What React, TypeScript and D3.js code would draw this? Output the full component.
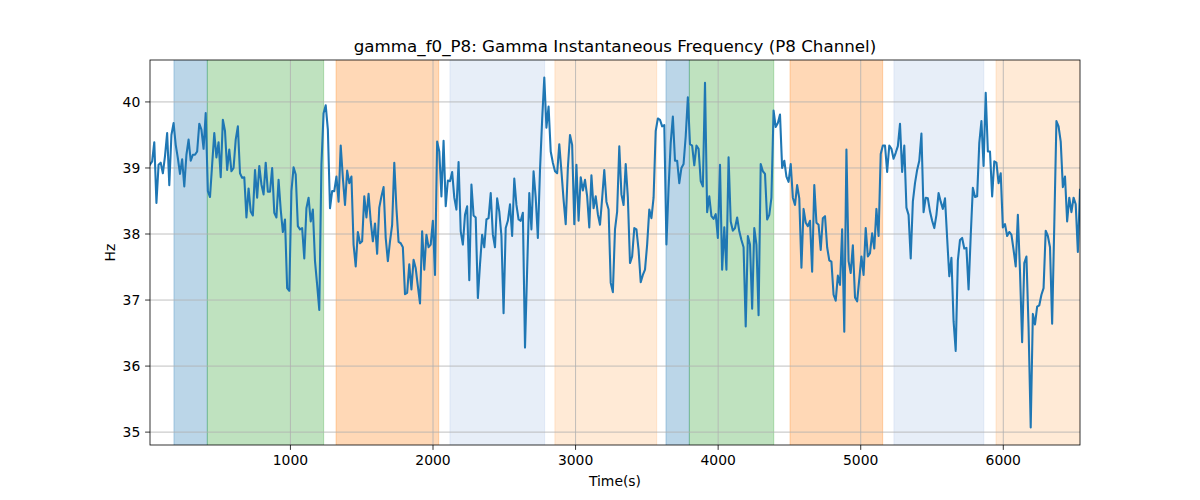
import { useEffect, useRef } from "react"
import * as d3 from "d3"

// sampled every ~15 s
const T_START = 15
const T_STEP = 15.03

const HZ_VALUES = [
  39.05, 39.1, 39.39, 38.47, 39.05, 39.08, 38.92, 39.18, 39.53, 38.74,
  39.5, 39.68, 39.35, 39.15, 38.91, 39.13, 38.72, 39.2, 39.43, 39.11,
  39.2, 39.2, 39.25, 39.67, 39.58, 39.29, 39.83, 38.65, 38.56, 39.05,
  39.53, 39.16, 39.39, 38.86, 39.73, 39.56, 38.97, 39.28, 38.95, 39.0,
  39.43, 39.63, 38.92, 38.85, 38.86, 38.25, 38.69, 38.34, 38.28, 38.97,
  38.55, 39.03, 38.75, 38.6, 39.08, 38.64, 38.64, 39.0, 38.32, 38.25,
  38.82, 38.37, 38.03, 38.22, 37.18, 37.14, 38.65, 39.01, 38.9, 38.12,
  38.07, 38.09, 37.63, 38.39, 38.55, 38.19, 38.37, 37.59, 37.23, 36.85,
  39.05, 39.83, 39.95, 39.58, 38.39, 38.65, 38.65, 38.87, 38.49, 39.34,
  38.85, 38.44, 38.96, 38.77, 38.87, 37.84, 37.51, 38.03, 37.86, 37.89,
  38.57, 38.25, 38.61, 38.19, 37.89, 38.16, 37.7, 38.4, 38.57, 38.71,
  37.94, 37.59,
  // ~1700 s
  37.89, 38.14, 39.08, 38.39, 37.88, 37.86, 37.8, 37.09, 37.11, 37.54,
  37.16, 37.61, 37.48, 37.21, 36.95, 38.04, 37.46, 37.99, 37.8, 37.84,
  38.2, 37.38, 39.4, 39.25, 38.57, 39.41, 38.42, 38.81, 38.8, 38.94,
  38.55, 38.37, 39.09, 38.04, 37.84, 38.29, 38.42, 37.3, 38.75, 38.28,
  38.25, 37.03, 37.54, 37.99, 37.8, 38.22, 38.24, 38.62, 37.99, 37.8,
  38.54, 38.34, 37.97, 36.8, 38.09, 38.2, 38.45, 37.97, 38.84, 38.44,
  38.22, 38.2, 38.32, 36.28, 37.46, 38.62, 38.07, 38.95, 38.55, 37.94,
  38.97, 39.73, 40.37, 39.61, 39.93, 39.25, 39.08, 38.95, 38.92, 39.36,
  38.95, 38.52, 38.15, 39.0, 39.5, 39.35, 38.15, 39.05, 38.2, 38.86,
  38.66, 38.82, 38.57, 38.1, 38.89, 38.39, 38.57, 38.3, 38.14, 38.54,
  38.97, 38.49, 38.37, 37.26, 37.12, 38.07, 38.34, 39.33,
  // ~3330 s
  38.6, 38.44, 39.06, 38.55, 37.56, 37.66, 38.09, 38.07, 37.76, 37.27,
  37.38, 37.46, 37.84, 38.37, 38.24, 38.55, 39.56, 39.75, 39.73, 39.63,
  39.65, 37.84, 38.7, 39.38, 39.78, 39.11, 39.11, 38.77, 39.0, 39.06,
  39.48, 40.07, 39.36, 39.34, 39.04, 39.34, 39.29, 38.8, 38.72, 40.29,
  38.33, 38.57, 38.27, 38.23, 38.3, 37.94, 39.05, 37.46, 38.1, 37.46,
  39.16, 38.19, 38.05, 38.09, 38.25, 38.04, 37.91, 37.8, 36.6, 37.97,
  37.84, 36.87, 38.09, 37.84, 36.77, 39.06, 38.95, 38.91, 38.22, 38.29,
  38.55, 39.87, 39.62, 39.68, 39.81, 39.0, 39.11, 38.87, 38.79, 39.06,
  38.55, 38.44, 38.74, 38.54, 37.49, 38.38, 38.17, 38.12, 38.2, 37.43,
  38.74, 38.17, 38.14, 37.76, 38.24, 38.27, 37.8, 37.6, 37.58, 37.08,
  36.99, 37.37, 37.23, 38.07, 36.52, 39.28, 37.59, 37.41, 37.83, 37.04,
  36.98, 37.32,
  // ~5020 s
  37.66, 37.38, 38.09, 37.66, 37.71, 38.01, 37.78, 38.38, 37.97, 39.21,
  39.34, 39.34, 38.94, 39.34, 39.29, 39.14, 39.23, 39.33, 39.67, 38.94,
  39.34, 38.4, 38.29, 37.63, 38.49, 38.77, 38.97, 39.11, 39.52, 38.33,
  38.55, 38.54, 38.34, 38.2, 38.09, 38.29, 38.62, 38.49, 38.38, 38.54,
  37.94, 37.36, 37.64, 36.68, 36.23, 37.6, 37.91, 37.94, 37.78, 37.79,
  37.16, 37.97, 38.7, 38.56, 38.57, 39.38, 39.71, 39.03, 40.14, 39.25,
  39.25, 38.57, 39.1, 39.08, 38.77, 38.92, 38.1, 38.15, 37.97, 38.03,
  37.99, 37.76, 37.51, 38.29, 37.43, 36.36, 37.56, 37.66, 36.58, 35.07,
  36.79, 36.63, 36.9, 36.92, 37.08, 37.18, 38.05, 37.97, 37.8, 36.64,
  38.14, 39.71, 39.63, 39.4, 38.71, 38.87, 38.19, 38.55, 38.33, 38.55,
  38.45, 37.73, 38.67,
]

const SPAN_START = [183, 417, 1320, 2119, 2855, 3634, 3798, 4504, 5233, 5949]
const SPAN_END   = [417, 1233, 2040, 2783, 3569, 3798, 4390, 5154, 5863, 6600]
const SPAN_KIND  = ["blue", "green", "orange", "ltblue", "ltorange", "blue", "green", "orange", "ltblue", "ltorange"]

const X_TICKS = [1000, 2000, 3000, 4000, 5000, 6000]
const Y_TICKS = [35, 36, 37, 38, 39, 40]

const SPAN_COLORS: Record<string, string> = {
  blue:     "#1f77b4",
  green:    "#2ca02c",
  orange:   "#ff7f0e",
  ltblue:   "#aec7e8",
  ltorange: "#ffbb78",
}

const W = 1200
const H = 500
const M_L = 150
const M_R = 1080
const M_T = 60
const M_B = 445
const FONT = "DejaVu Sans, sans-serif"

export default function App() {
  const svgRef = useRef<SVGSVGElement>(null)

  useEffect(() => {
    if (!svgRef.current) return
    const svg = d3.select(svgRef.current)
    svg.selectAll("*").remove()

    const times = HZ_VALUES.map((_, i) => T_START + i * T_STEP)
    const xScale = d3.scaleLinear().domain([times[0], times[times.length - 1]]).range([M_L, M_R])
    const yMin = d3.min(HZ_VALUES)!
    const yMax = d3.max(HZ_VALUES)!
    const pad = (yMax - yMin) * 0.05
    const yScale = d3.scaleLinear().domain([yMin - pad, yMax + pad]).range([M_B, M_T])

    svg.append("defs").append("clipPath").attr("id", "plot-clip")
      .append("rect").attr("x", M_L).attr("y", M_T).attr("width", M_R - M_L).attr("height", M_B - M_T)

    const plot = svg.append("g").attr("clip-path", "url(#plot-clip)")

    // shaded spans
    SPAN_START.forEach((s, i) => {
      const c = SPAN_COLORS[SPAN_KIND[i]]
      plot.append("rect")
        .attr("x", xScale(s))
        .attr("y", M_T - 2)
        .attr("width", xScale(SPAN_END[i]) - xScale(s))
        .attr("height", M_B - M_T + 4)
        .attr("fill", c)
        .attr("fill-opacity", 0.3)
        .attr("stroke", c)
        .attr("stroke-opacity", 0.3)
        .attr("stroke-width", 1)
    })

    // grid
    X_TICKS.forEach((t) => {
      plot.append("line")
        .attr("x1", xScale(t)).attr("x2", xScale(t))
        .attr("y1", M_T).attr("y2", M_B)
        .attr("stroke", "#b0b0b0").attr("stroke-width", 0.8)
    })
    Y_TICKS.forEach((t) => {
      plot.append("line")
        .attr("x1", M_L).attr("x2", M_R)
        .attr("y1", yScale(t)).attr("y2", yScale(t))
        .attr("stroke", "#b0b0b0").attr("stroke-width", 0.8)
    })

    // series
    const line = d3.line<number>()
      .x((_, i) => xScale(times[i]))
      .y((d) => yScale(d))
    plot.append("path")
      .datum(HZ_VALUES)
      .attr("d", line)
      .attr("fill", "none")
      .attr("stroke", "#1f77b4")
      .attr("stroke-width", 2.08)
      .attr("stroke-linejoin", "round")
      .attr("stroke-linecap", "square")

    // axes box
    svg.append("rect")
      .attr("x", M_L).attr("y", M_T)
      .attr("width", M_R - M_L).attr("height", M_B - M_T)
      .attr("fill", "none").attr("stroke", "#000").attr("stroke-width", 0.8)

    // x ticks
    X_TICKS.forEach((t) => {
      const x = xScale(t)
      svg.append("line")
        .attr("x1", x).attr("x2", x).attr("y1", M_B).attr("y2", M_B + 4.9)
        .attr("stroke", "#000").attr("stroke-width", 0.8)
      svg.append("text")
        .attr("x", x).attr("y", M_B + 9.7)
        .attr("dy", "0.76em")
        .attr("text-anchor", "middle")
        .attr("font-family", FONT).attr("font-size", 13.9)
        .text(String(t))
    })

    // y ticks
    Y_TICKS.forEach((t) => {
      const y = yScale(t)
      svg.append("line")
        .attr("x1", M_L - 4.9).attr("x2", M_L).attr("y1", y).attr("y2", y)
        .attr("stroke", "#000").attr("stroke-width", 0.8)
      svg.append("text")
        .attr("x", M_L - 9.7).attr("y", y)
        .attr("dy", "0.35em")
        .attr("text-anchor", "end")
        .attr("font-family", FONT).attr("font-size", 13.9)
        .text(String(t))
    })

    // labels
    svg.append("text")
      .attr("x", (M_L + M_R) / 2).attr("y", 486)
      .attr("text-anchor", "middle")
      .attr("font-family", FONT).attr("font-size", 13.9)
      .text("Time(s)")

    svg.append("text")
      .attr("transform", `translate(115,${(M_T + M_B) / 2}) rotate(-90)`)
      .attr("text-anchor", "middle")
      .attr("font-family", FONT).attr("font-size", 13.9)
      .text("Hz")

    svg.append("text")
      .attr("x", (M_L + M_R) / 2).attr("y", 51.7)
      .attr("text-anchor", "middle")
      .attr("font-family", FONT).attr("font-size", 16.7)
      .text("gamma_f0_P8: Gamma Instantaneous Frequency (P8 Channel)")
  }, [])

  return (
    <svg
      ref={svgRef}
      width={W}
      height={H}
      style={{ position: "absolute", left: 0, top: 0, background: "#fff" }}
    />
  )
}
